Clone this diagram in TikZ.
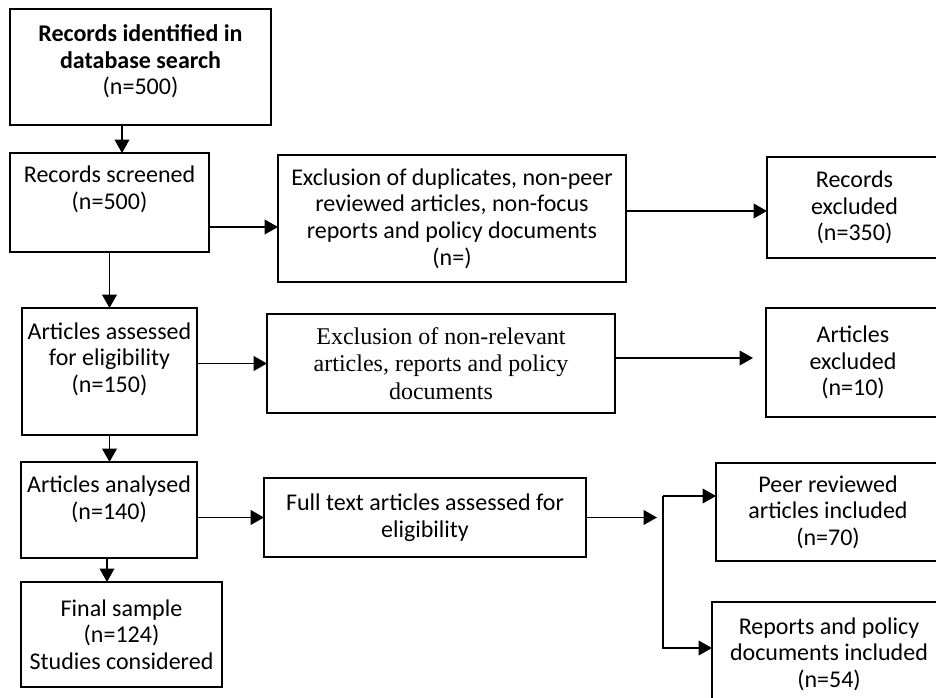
\documentclass[tikz,border=0pt]{standalone}
\usepackage{fontspec}
\setmainfont{Carlito}
\newfontfamily\serifbody{Liberation Serif}
\usetikzlibrary{positioning, calc, arrows.meta}
\newcommand{\liftby}[1]{\rule[-#1]{0pt}{#1}}

\begin{document}
\begin{tikzpicture}[
    x=0.75pt, y=-0.75pt,
    box/.style={draw, rectangle, line width=1.1pt, inner sep=1pt, outer sep=0pt, align=center, font=\fontsize{18pt}{20pt}\selectfont},
    serifbox/.style={box, font=\fontsize{18pt}{20.5pt}\serifbody},
    arr/.style={line width=1.1pt, -{Triangle[length=10pt, width=11pt]}}
]
    \useasboundingbox (0,0) rectangle (936,698);
    \clip (0,0) rectangle (936,698);

    % ===============================
    % 1. MAIN COLUMN
    % ===============================
    \node[box, minimum width=195.75pt, minimum height=87pt] (ident) at (140.5, 67) {\textbf{Records identified in}\\\textbf{database search}\\(n=500)\liftby{11pt}};
    \node[box, minimum width=149.25pt, minimum height=74.25pt] (screened) at (109.5, 202.5) {Records screened\\(n=500)\liftby{22pt}};
    \node[box, minimum width=131.25pt, minimum height=95.25pt] (assessed) at (109.5, 371.5) {Articles assessed\\for eligibility\\(n=150)\liftby{21pt}};
    \node[box, minimum width=132pt, minimum height=72pt] (analysed) at (109, 510) {Articles analysed\\(n=140)\liftby{18pt}};
    \node[box, minimum width=150.75pt, minimum height=78.75pt] (final) at (121.5, 634.5) {Final sample\\(n=124)\\Studies considered};

    % ===============================
    % 2. EXCLUSION / SCREENING STEPS
    % ===============================
    \node[box, minimum width=261pt, minimum height=95.25pt] (excl1) at (452, 218.5) {Exclusion of duplicates, non-peer\\reviewed articles, non-focus\\reports and policy documents\\(n=)};
    \node[serifbox, minimum width=261pt, minimum height=74.25pt] (excl2) at (441, 363.5) {Exclusion of non-relevant\\articles, reports and policy\\documents};
    \node[box, minimum width=241.5pt, minimum height=59.25pt] (fulltext) at (425, 517.5) {Full text articles assessed for\\eligibility};

    % ===============================
    % 3. OUTCOMES
    % ===============================
    \node[box, minimum width=131.25pt, minimum height=75.75pt] (recexcl) at (854.5, 207.5) {Records\\excluded\\(n=350)};
    \node[box, minimum width=130.5pt, minimum height=81.75pt] (artexcl) at (853, 362.5) {Articles\\excluded\\(n=10)};
    \node[box, minimum width=168pt, minimum height=73.5pt] (peer) at (828, 512) {Peer reviewed\\articles included\\(n=70)};
    \node[box, minimum width=175.5pt, minimum height=78pt] (reports) at (829, 654) {Reports and policy\\documents included\\(n=54)};

    % ===============================
    % 4. CONNECTIONS
    % ===============================
    \draw[arr] ($(ident.south)+(-18.5,0)$) -- ($(screened.north)+(12.5,0)$);
    \draw[arr] (screened.south) -- (assessed.north);
    \draw[arr] (assessed.south) -- (assessed.south |- analysed.north);
    \draw[arr] ($(analysed.south)+(-2,0)$) -- ($(analysed.south |- final.north)+(-2,0)$);

    \coordinate (s1) at ($(screened.east)+(0,24.5)$);
    \draw[arr] (s1) -- (s1 -| excl1.west);
    \coordinate (e1) at ($(excl1.east)+(0,-7.5)$);
    \draw[arr] (e1) -- (e1 -| recexcl.west);

    \draw[arr] (assessed.east |- excl2.west) -- (excl2.west);
    \coordinate (e2) at ($(excl2.east)+(0,-5.5)$);
    \draw[arr] (e2) -- ($(e2 -| artexcl.west)+(-13,0)$);

    \draw[arr] (analysed.east |- fulltext.west) -- (fulltext.west);

    % fork to the two included groups
    \coordinate (fork) at ($(fulltext.east)+(77,0)$);
    \coordinate (pj) at ($(peer.west)+(0,-16)$);
    \coordinate (rj) at ($(reports.west)+(0,-6)$);
    \draw[arr] (fulltext.east) -- ($(fork)+(-6,0)$);
    \draw[arr] (fork |- pj) -- (pj);
    \draw[arr] (fork |- pj) -- (fork |- rj) -- (rj);

\end{tikzpicture}
\end{document}
